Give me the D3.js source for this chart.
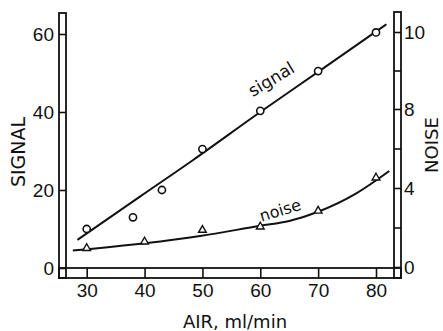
<!DOCTYPE html>
<html>
<head>
<meta charset="utf-8">
<script src="https://cdn.jsdelivr.net/npm/d3@7"></script>
<style>
  html, body { margin: 0; padding: 0; background: #fff; }
  svg { display: block; font-family: "DejaVu Sans", sans-serif; }
</style>
</head>
<body>
<div id="chart"></div>
<script>
// measured points
const signalAir = [30, 38, 43, 50, 60, 70, 80];
const signalValues = [10, 13, 20, 30.5, 40.3, 50.5, 60.4];
const noiseAir = [30, 40, 50, 60, 70, 80];
const noiseValues = [0.95, 1.28, 1.87, 2.04, 2.84, 4.52];

// hand-drawn curves through them
const signalFitAir = [28.4, 39.2, 48.4, 60, 70, 81.8];
const signalFitValues = [7.2, 18.3, 27.7, 40, 50.3, 62.5];
const noiseFitAir = [27.6, 40, 49.6, 60, 65, 70, 76.6, 82.3];
const noiseFitValues = [0.83, 1.2, 1.57, 2.09, 2.33, 2.8, 3.73, 4.86];

const xTicks = [30, 40, 50, 60, 70, 80];
const signalTicks = [0, 20, 40, 60];
const noiseTicks = [0, 2, 4, 6, 8, 9, 10];
const noiseTickLabels = [0, 4, 8, 10];

const width = 443, height = 331;
const strip = { left: 59, right: 401, top: 13, bottom: 278 };
const stripW = 7, stripH = 10;

const svg = d3.select("#chart").append("svg")
  .attr("width", width)
  .attr("height", height);

const x = d3.scaleLinear().domain([30, 80]).range([86.7, 376]);
const ySignal = d3.scaleLinear().domain([0, 60]).range([268, 34]);
// the printed noise axis is not evenly labelled: 0,4,8 every 2 ticks, then 10
const yNoise = d3.scaleLinear().domain([0, 8, 10]).range([267, 109, 32]);

// axis strips (double frame lines)
const frame = svg.append("g")
  .attr("fill", "none")
  .attr("stroke", "#111")
  .attr("stroke-width", 1.8);
frame.append("rect")
  .attr("x", strip.left).attr("y", strip.top)
  .attr("width", stripW).attr("height", strip.bottom - strip.top);
frame.append("rect")
  .attr("x", strip.right - stripW).attr("y", strip.top - 1)
  .attr("width", stripW).attr("height", strip.bottom - strip.top + 1);
frame.append("rect")
  .attr("x", strip.left).attr("y", strip.bottom - stripH)
  .attr("width", strip.right - strip.left).attr("height", stripH);

function styleAxis(g) {
  g.select(".domain").remove();
  g.selectAll(".tick line").attr("stroke", "#111").attr("stroke-width", 1.6);
  g.selectAll(".tick text")
    .attr("fill", "#111")
    .style("font-size", "19px");
}

svg.append("g")
  .attr("transform", "translate(" + (strip.left + stripW) + ",0)")
  .call(d3.axisLeft(ySignal).tickValues(signalTicks).tickSize(stripW).tickPadding(5))
  .call(styleAxis);

svg.append("g")
  .attr("transform", "translate(" + (strip.right - stripW) + ",0)")
  .call(d3.axisRight(yNoise).tickValues(noiseTicks).tickSize(stripW).tickPadding(3)
    .tickFormat(d => noiseTickLabels.includes(d) ? d : ""))
  .call(styleAxis);

svg.append("g")
  .attr("transform", "translate(0," + (strip.bottom - stripH) + ")")
  .call(d3.axisBottom(x).tickValues(xTicks).tickSize(stripH).tickPadding(6))
  .call(styleAxis);

// axis titles
svg.append("text")
  .attr("transform", "translate(25,152) rotate(-90)")
  .attr("text-anchor", "middle")
  .style("font-size", "19px")
  .attr("fill", "#111")
  .text("SIGNAL");

svg.append("text")
  .attr("transform", "translate(438,145) rotate(-90)")
  .attr("text-anchor", "middle")
  .style("font-size", "18px")
  .attr("fill", "#111")
  .text("NOISE");

svg.append("text")
  .attr("x", 235).attr("y", 328)
  .attr("text-anchor", "middle")
  .style("font-size", "18px")
  .attr("fill", "#111")
  .text("AIR, ml/min");

// curves
const signalLine = d3.line()
  .x(d => x(d[0])).y(d => ySignal(d[1]))
  .curve(d3.curveMonotoneX);
const noiseLine = d3.line()
  .x(d => x(d[0])).y(d => yNoise(d[1]))
  .curve(d3.curveMonotoneX);

svg.append("path")
  .datum(d3.zip(signalFitAir, signalFitValues))
  .attr("d", signalLine)
  .attr("fill", "none").attr("stroke", "#111").attr("stroke-width", 2);

svg.append("path")
  .datum(d3.zip(noiseFitAir, noiseFitValues))
  .attr("d", noiseLine)
  .attr("fill", "none").attr("stroke", "#111").attr("stroke-width", 2);

// markers
svg.append("g").selectAll("circle")
  .data(d3.zip(signalAir, signalValues))
  .join("circle")
  .attr("cx", d => x(d[0]))
  .attr("cy", d => ySignal(d[1]))
  .attr("r", 3.6)
  .attr("fill", "#fff").attr("stroke", "#111").attr("stroke-width", 1.6);

const tri = d3.symbol().type(d3.symbolTriangle).size(26);
svg.append("g").selectAll("path")
  .data(d3.zip(noiseAir, noiseValues))
  .join("path")
  .attr("d", tri)
  .attr("transform", d => "translate(" + x(d[0]) + "," + yNoise(d[1]) + ")")
  .attr("fill", "#fff").attr("stroke", "#111").attr("stroke-width", 1.4);

// curve labels
svg.append("text")
  .attr("transform", "translate(" + x(58.7) + "," + ySignal(43.8) + ") rotate(-31)")
  .style("font-size", "17px")
  .attr("fill", "#111")
  .text("signal");

svg.append("text")
  .attr("transform", "translate(" + x(60.2) + "," + yNoise(2.29) + ") rotate(-17)")
  .style("font-size", "16px")
  .attr("fill", "#111")
  .text("noise");
</script>
</body>
</html>
